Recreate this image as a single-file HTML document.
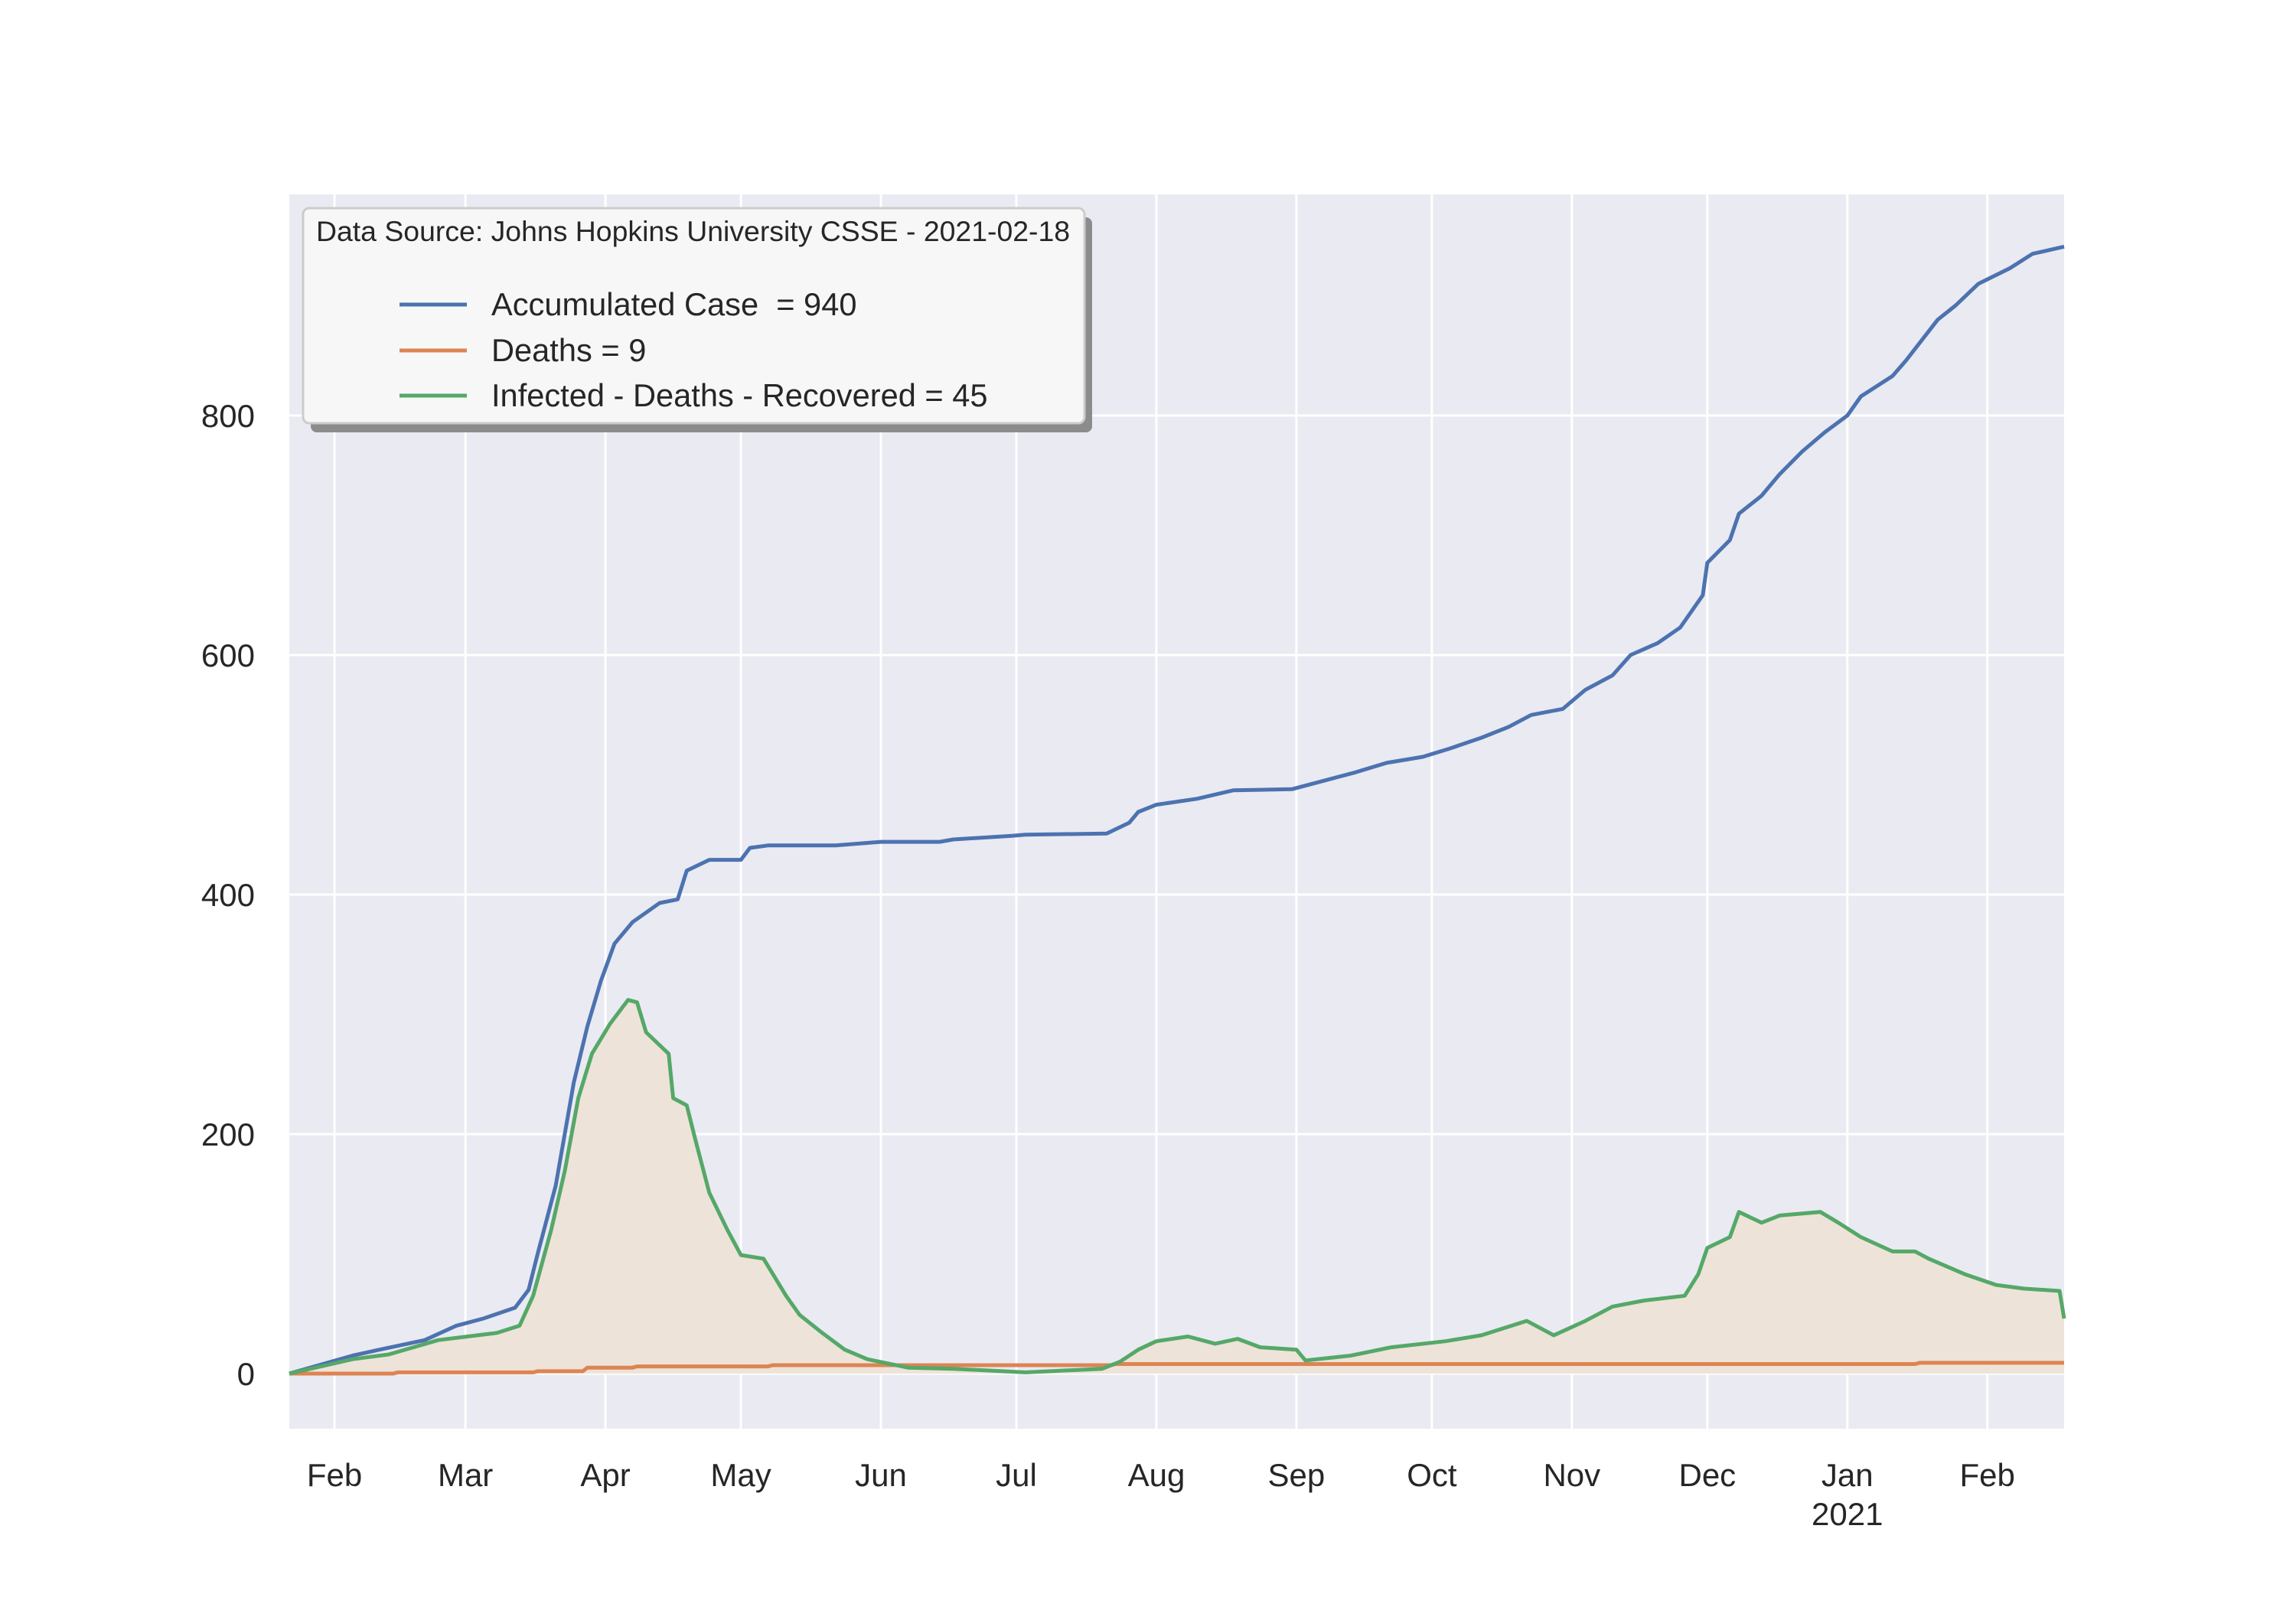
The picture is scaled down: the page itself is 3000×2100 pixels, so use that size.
<!DOCTYPE html>
<html><head><meta charset="utf-8">
<style>
html,body{margin:0;padding:0;background:#fff;}
svg{display:block;}
text{font-family:"Liberation Sans",Arial,sans-serif;fill:#262626;}
</style></head>
<body>
<svg id="chart" width="3000" height="2100" viewBox="0 0 3000 2100" xmlns="http://www.w3.org/2000/svg">
<rect x="378" y="254" width="2319" height="1613" fill="#eaeaf2"/>
<g id="grid"></g>
<g id="series"></g>
<g id="axes"></g>
<g id="legend">
  <rect x="406" y="284" width="1021" height="281" rx="8" fill="#8c8c8c"/>
  <rect x="396" y="272" width="1021" height="281" rx="8" fill="#f7f7f7" stroke="#cccccc" stroke-width="3"/>
  <text x="413" y="315" font-size="37.4">Data Source: Johns Hopkins University CSSE - 2021-02-18</text>
  <line x1="522" y1="398" x2="610" y2="398" stroke="#4c72b0" stroke-width="5"/>
  <text x="642" y="412" font-size="41.6" xml:space="preserve">Accumulated Case  = 940</text>
  <line x1="522" y1="458" x2="610" y2="458" stroke="#dd8452" stroke-width="5"/>
  <text x="642" y="472" font-size="41.6">Deaths = 9</text>
  <line x1="522" y1="517" x2="610" y2="517" stroke="#55a868" stroke-width="5"/>
  <text x="642" y="531" font-size="41.6">Infected - Deaths - Recovered = 45</text>
</g>
</svg>
<script>
// Day offsets from 2020-01-22
const blueDays = [0,14,20,30,37,43,50,53,55,59,63,66,69,72,76,82,86,88,93,100,102,106,121,131,144,147,160,163,181,186,188,192,201,209,222,228,236,243,251,257,264,270,275,282,287,293,297,303,308,313,314,319,321,326,330,335,340,345,348,355,358,365,369,374,381,386,393];
const blueVals = [0,15,20,28,40,46,55,70,100,157,243,290,328,359,377,393,396,420,429,429,439,441,441,444,444,446,449,450,451,460,469,475,480,487,488,494,502,510,515,522,531,540,550,555,571,583,600,610,623,650,677,696,718,733,751,770,786,800,816,833,846,880,892,910,923,935,941];
const greenDays = [0,14,22,33,46,51,54,58,61,64,67,71,75,77,79,84,85,88,90,93,97,100,105,110,113,118,123,128,137,147,163,180,184,188,192,199,205,210,215,223,225,235,244,256,264,274,280,287,293,300,309,312,314,319,321,326,330,339,343,348,355,360,363,371,378,384,392,393];
const greenVals = [0,12,16,28,34,40,65,120,169,230,267,292,312,310,285,267,230,224,194,151,120,99,96,65,49,34,20,12,5,4,1,4,10,20,27,31,25,29,22,20,11,15,22,27,32,44,32,44,56,61,65,83,105,114,135,126,132,135,126,114,102,102,96,83,74,71,69,46];
const deathDays = [0,23,24,54,55,65,66,76,77,106,107,182,183,360,361,393];
const deathVals = [0,0,1,1,2,2,5,5,6,6,7,7,8,8,9,9];
const yTicks = [0,200,400,600,800];
const xTickDays = [10,39,70,100,131,161,192,223,253,284,314,345,376];
const xTickLabels = ["Feb","Mar","Apr","May","Jun","Jul","Aug","Sep","Oct","Nov","Dec","Jan","Feb"];

const X0=378, X1=2697, D0=0, D1=393;
const Y0=1795, YPER=1.565;
function xs(d){return X0+(d-D0)/(D1-D0)*(X1-X0);}
function ys(v){return Y0-v*YPER;}
const NS="http://www.w3.org/2000/svg";
function mk(tag,attrs,parent){const e=document.createElementNS(NS,tag);for(const k in attrs)e.setAttribute(k,attrs[k]);parent.appendChild(e);return e;}
const grid=document.getElementById('grid'), series=document.getElementById('series'), axes=document.getElementById('axes');

yTicks.forEach(v=>{
  const l=mk('line',{x1:X0,x2:X1,y1:ys(v),y2:ys(v),stroke:'#fff','stroke-width':3},grid);
  
  
  const t=mk('text',{x:333,y:ys(v)+15,'font-size':42,'text-anchor':'end'},axes);
  t.textContent=v;
  
  
});
xTickDays.forEach((d,i)=>{
  const l=mk('line',{x1:xs(d),x2:xs(d),y1:254,y2:1867,stroke:'#fff','stroke-width':3},grid);
  
  
  const t=mk('text',{x:xs(d),y:1942,'font-size':42,'text-anchor':'middle'},axes);
  t.textContent=xTickLabels[i];
  
  
});
const yr=mk('text',{x:xs(345),y:1993,'font-size':42,'text-anchor':'middle'},axes);
yr.textContent='2021';



function pts(ds,vs){return ds.map((d,i)=>xs(d).toFixed(1)+','+ys(vs[i]).toFixed(1)).join(' ');}
const area=mk('polygon',{points:xs(greenDays[0])+','+ys(0)+' '+pts(greenDays,greenVals)+' '+xs(greenDays[greenDays.length-1])+','+ys(0),fill:'#eee3d9'},series);


const lb=mk('polyline',{points:pts(blueDays,blueVals),fill:'none',stroke:'#4c72b0','stroke-width':5,'stroke-linejoin':'round'},series);


const lo=mk('polyline',{points:pts(deathDays,deathVals),fill:'none',stroke:'#dd8452','stroke-width':5,'stroke-linejoin':'round'},series);


const lg=mk('polyline',{points:pts(greenDays,greenVals),fill:'none',stroke:'#55a868','stroke-width':5,'stroke-linejoin':'round'},series);


</script>
</body></html>
